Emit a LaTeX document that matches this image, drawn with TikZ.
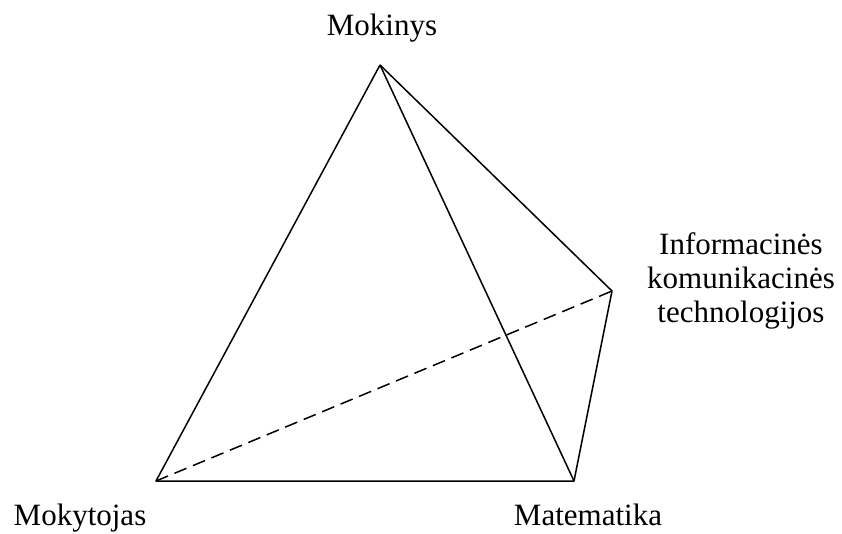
\documentclass[tikz,border=0pt]{standalone}
\usepackage{fontspec}
\setmainfont{Liberation Serif}
\begin{document}
\begin{tikzpicture}[x=1pt,y=-1pt,
  edge/.style={line width=1.5pt,line join=round},
  hidden/.style={line width=1.5pt,dash pattern=on 13pt off 7pt},
  lbl/.style={font=\fontsize{31}{34}\selectfont,inner sep=0pt,anchor=base,align=center}]
\useasboundingbox (0,0) rectangle (842,533);
\coordinate (A) at (380,65);
\coordinate (B) at (156,481);
\coordinate (C) at (574,481);
\coordinate (D) at (612,291);
\draw[edge] (A) -- (B) -- (C) -- (A);
\draw[edge] (A) -- (D) -- (C);
\draw[hidden] (B) -- (D);
\node[lbl] (lA) at (382,35) {Mokinys};
\node[lbl] (lB) at (80,525) {Mokytojas};
\node[lbl] (lC) at (588,525) {Matematika};
\node[lbl] (lD) at (741,322) {Informacinės\\komunikacinės\\technologijos};
\end{tikzpicture}
\end{document}
